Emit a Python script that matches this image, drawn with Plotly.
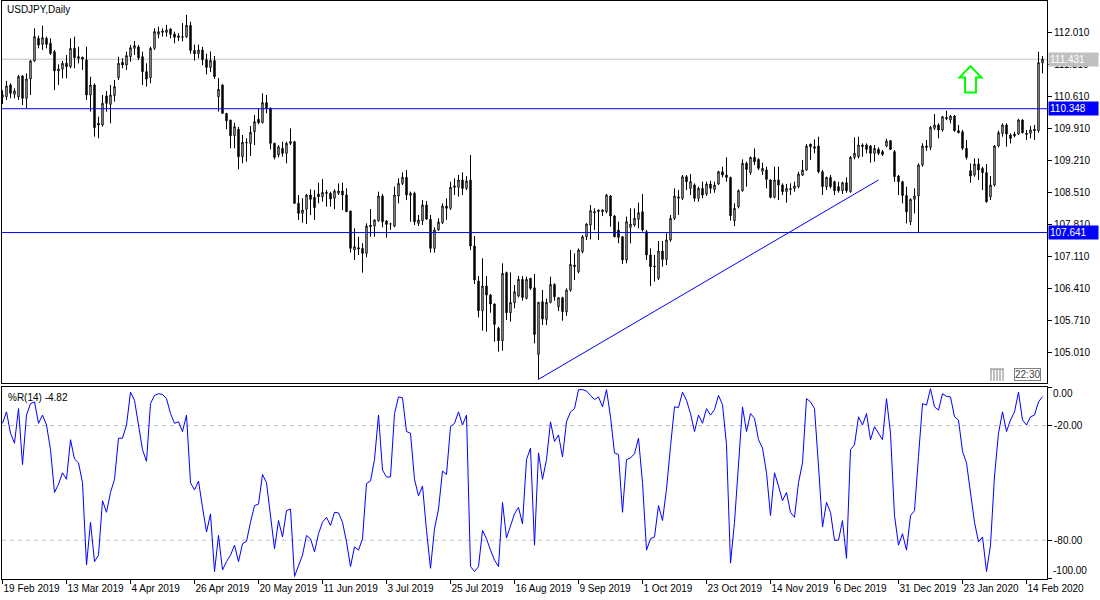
import plotly.graph_objects as go

# ---------------- data ----------------
date_labels = ["19 Feb 2019", "13 Mar 2019", "4 Apr 2019", "26 Apr 2019", "20 May 2019",
               "11 Jun 2019", "3 Jul 2019", "25 Jul 2019", "16 Aug 2019", "9 Sep 2019",
               "1 Oct 2019", "23 Oct 2019", "14 Nov 2019", "6 Dec 2019", "31 Dec 2019",
               "23 Jan 2020", "14 Feb 2020"]
label_bars = [0, 16, 32, 48, 64, 80, 96, 112, 128, 144, 160, 176, 192, 208, 224, 240, 256]

opens = [
 110.600,110.612,110.867,110.663,110.612,111.064,110.576,110.998,111.392,111.887,
 111.756,111.887,111.778,111.596,111.173,111.217,111.341,111.268,111.669,111.486,
 111.472,111.414,110.648,110.867,110.029,109.992,110.627,110.444,110.634,111.027,
 111.363,111.304,111.486,111.669,111.700,111.486,111.158,111.027,111.669,111.975,
 112.018,112.018,112.090,111.980,111.940,111.910,111.920,112.170,111.620,111.550,
 111.630,111.420,111.250,111.400,110.612,110.867,110.247,110.100,109.759,109.900,
 109.300,109.600,109.590,109.847,110.116,110.043,110.481,110.357,109.591,109.336,
 109.480,109.373,109.628,109.628,108.280,108.061,108.150,108.462,108.410,108.484,
 108.426,108.520,108.500,108.390,108.500,108.550,108.462,108.110,107.260,107.310,
 107.295,107.186,107.800,107.784,107.900,108.440,107.893,107.830,107.784,108.440,
 108.717,108.848,108.455,108.500,107.842,107.900,108.243,107.930,107.296,107.700,
 107.857,108.221,108.170,108.630,108.630,108.790,108.607,108.790,107.347,106.581,
 105.933,106.472,106.275,106.079,105.547,105.277,106.764,105.889,106.108,106.254,
 106.618,106.202,106.640,106.435,104.978,106.130,105.743,106.115,106.508,106.020,
 106.217,105.911,106.384,106.930,106.785,107.223,107.550,107.806,108.097,108.100,
 108.097,108.097,108.440,108.002,107.696,107.550,107.040,107.755,107.806,107.930,
 108.097,107.660,107.150,106.910,106.640,107.237,107.055,107.478,107.951,108.390,
 108.390,108.862,108.608,108.680,108.389,108.607,108.483,108.702,108.585,108.702,
 108.971,108.898,108.847,107.900,108.206,108.556,109.154,108.950,109.285,109.240,
 108.980,109.010,108.790,108.410,108.790,108.680,108.534,108.580,108.607,108.644,
 108.898,109.008,109.576,109.518,109.533,108.971,108.644,108.847,108.753,108.644,
 108.556,108.731,108.534,109.285,109.300,109.518,109.555,109.533,109.372,109.460,
 109.410,109.532,109.650,109.409,108.877,108.753,108.450,107.878,108.367,108.440,
 109.117,109.533,109.504,109.920,109.992,109.883,110.159,110.101,110.188,109.868,
 109.846,109.482,108.993,108.899,109.139,109.044,108.950,108.425,108.680,109.533,
 109.810,109.992,109.773,109.795,109.795,110.101,109.810,109.810,109.897,109.868,
 111.350]

highs = [
 110.750,110.955,110.903,110.794,111.086,111.086,111.122,111.414,112.106,111.946,
 112.164,111.924,111.887,111.632,111.319,111.392,111.523,111.887,111.924,111.705,
 111.486,111.705,111.049,110.903,110.175,110.648,110.736,110.867,110.976,111.486,
 111.450,111.596,111.741,111.829,111.741,111.596,111.341,111.705,112.106,112.142,
 112.106,112.179,112.106,112.033,112.000,112.220,112.400,112.250,111.750,111.750,
 111.700,111.550,111.600,111.500,111.020,110.880,110.250,110.100,110.043,109.950,
 109.774,109.700,109.970,110.211,110.357,110.685,110.648,110.378,109.606,109.555,
 109.628,109.628,109.920,109.640,108.462,108.390,108.484,108.586,108.570,108.732,
 108.812,108.570,108.535,108.586,108.717,108.732,108.608,108.120,107.733,107.550,
 107.405,107.842,108.155,107.930,108.535,108.483,107.915,107.857,108.644,108.826,
 108.957,109.008,108.535,108.535,108.024,108.352,108.330,108.024,107.755,107.950,
 108.279,108.389,108.753,108.826,108.899,108.957,108.877,109.336,107.565,106.691,
 107.077,106.691,106.297,106.093,105.583,106.968,106.785,106.771,106.494,106.691,
 106.691,106.676,106.650,106.734,106.120,106.385,106.200,106.676,106.530,106.217,
 106.239,106.421,107.259,107.186,107.296,107.587,107.842,108.243,108.170,108.148,
 108.148,108.483,108.461,108.024,107.878,107.565,107.988,108.170,108.170,108.294,
 108.483,107.696,107.296,107.150,107.456,107.456,107.623,108.024,108.607,108.570,
 108.899,108.899,108.920,108.717,108.644,108.753,108.753,108.775,108.753,108.993,
 109.081,109.285,108.862,108.279,108.585,109.241,109.190,109.300,109.480,109.263,
 109.168,109.081,108.804,109.081,109.081,108.717,108.702,108.717,108.753,108.971,
 109.226,109.576,109.580,109.678,109.737,109.008,108.862,108.899,108.775,108.753,
 108.753,108.847,109.314,109.722,109.737,109.590,109.590,109.555,109.554,109.503,
 109.445,109.693,109.664,109.445,108.899,108.774,108.644,108.389,108.607,109.153,
 109.591,109.664,109.970,110.232,110.028,110.188,110.305,110.210,110.210,109.992,
 109.883,109.664,109.153,109.263,109.263,109.081,109.139,108.877,109.555,109.868,
 110.028,110.028,109.810,109.846,110.130,110.115,109.883,109.970,109.992,111.595,
 111.500]

lows = [
 110.450,110.539,110.576,110.576,110.539,110.430,110.357,110.648,111.377,111.669,
 111.632,111.669,111.523,110.758,110.867,111.013,111.013,111.231,111.231,111.341,
 111.195,110.539,110.284,109.737,109.701,109.956,110.284,110.029,110.503,110.976,
 111.231,111.195,111.377,111.523,111.414,110.867,110.831,110.903,111.632,111.887,
 111.924,111.924,111.887,111.778,111.830,111.820,111.900,111.550,111.400,111.450,
 111.300,111.100,111.150,111.000,110.284,110.240,109.900,109.482,109.482,109.023,
 109.154,109.190,109.315,109.555,110.007,110.029,110.247,109.460,109.240,109.285,
 109.300,109.154,109.555,108.270,107.915,107.857,107.828,108.025,107.915,108.280,
 108.316,108.207,108.207,108.150,108.462,108.134,108.090,107.201,107.040,107.150,
 106.764,107.099,107.550,107.550,107.880,107.755,107.529,107.700,107.755,108.279,
 108.680,108.352,107.878,107.806,107.784,107.806,107.915,107.201,107.201,107.680,
 107.828,107.915,108.134,108.462,108.425,108.462,108.571,107.260,106.516,105.787,
 105.496,105.474,105.889,105.255,105.036,105.058,105.729,105.693,105.984,106.224,
 106.151,106.180,106.384,105.219,104.432,105.619,105.619,106.093,106.151,105.925,
 105.714,105.823,106.348,106.603,106.749,107.186,107.478,107.492,107.696,107.478,
 108.002,108.060,107.770,107.536,107.405,106.953,106.968,107.405,107.769,107.733,
 107.660,107.040,106.472,106.567,106.603,106.895,106.931,107.441,107.915,108.024,
 108.352,108.570,108.460,108.316,108.316,108.389,108.440,108.498,108.512,108.680,
 108.847,108.753,107.900,107.784,108.170,108.534,108.644,108.900,109.117,109.008,
 108.900,108.607,108.389,108.389,108.352,108.461,108.294,108.461,108.534,108.607,
 108.877,108.993,109.226,109.372,108.935,108.461,108.571,108.607,108.461,108.512,
 108.483,108.512,108.512,109.241,109.263,109.300,109.372,109.168,109.190,109.336,
 109.314,109.503,109.445,108.753,108.461,108.279,107.842,107.805,108.060,107.638,
 109.080,109.430,109.445,109.883,109.700,109.846,110.100,110.028,109.846,109.810,
 109.445,109.241,108.731,108.862,108.789,108.570,108.294,108.352,108.644,109.503,
 109.737,109.518,109.590,109.722,109.773,109.810,109.664,109.700,109.664,109.824,
 111.122]

closes = [
 110.650,110.845,110.685,110.736,111.049,110.576,110.998,111.392,111.924,111.741,
 111.902,111.756,111.559,111.173,111.217,111.341,111.268,111.669,111.465,111.450,
 111.435,110.648,110.867,109.934,109.992,110.466,110.466,110.648,110.831,111.341,
 111.304,111.508,111.683,111.727,111.465,111.158,110.998,111.669,112.033,112.033,
 112.048,112.070,111.975,111.910,111.910,111.920,112.170,111.620,111.550,111.630,
 111.420,111.250,111.400,111.050,110.772,110.247,110.087,109.759,109.956,109.300,
 109.613,109.610,109.832,110.065,110.043,110.481,110.357,109.591,109.285,109.518,
 109.373,109.591,109.591,108.280,108.061,108.134,108.462,108.367,108.185,108.426,
 108.520,108.500,108.375,108.550,108.550,108.462,108.097,107.296,107.332,107.280,
 107.186,107.784,107.770,107.915,108.440,107.878,107.820,107.830,108.462,108.717,
 108.848,108.462,108.500,107.878,107.915,108.243,107.937,107.296,107.697,107.870,
 108.221,108.170,108.629,108.660,108.790,108.607,108.768,107.347,106.603,105.933,
 106.472,106.275,106.079,105.634,105.277,106.749,105.889,106.115,106.348,106.618,
 106.224,106.618,106.421,105.415,106.115,105.750,106.115,106.508,106.239,106.217,
 105.911,106.384,106.946,106.895,107.259,107.551,107.828,108.119,108.075,108.130,
 108.134,108.461,108.002,107.550,107.536,107.040,107.878,107.827,107.951,108.075,
 107.696,107.150,106.895,106.895,107.237,107.055,107.478,107.951,108.440,108.420,
 108.862,108.753,108.753,108.389,108.607,108.461,108.702,108.607,108.680,108.971,
 108.898,108.847,108.009,108.170,108.556,109.154,109.022,109.285,109.190,109.044,
 109.044,108.804,108.410,108.790,108.680,108.534,108.607,108.600,108.658,108.920,
 109.008,109.533,109.518,109.482,108.971,108.644,108.847,108.644,108.556,108.556,
 108.731,108.556,109.285,109.372,109.555,109.555,109.460,109.372,109.480,109.372,
 109.350,109.642,109.460,108.862,108.753,108.450,108.097,108.367,108.440,109.117,
 109.533,109.504,109.941,109.992,109.883,110.174,110.130,110.188,109.868,109.825,
 109.482,109.285,108.877,109.139,109.008,108.950,108.316,108.680,109.533,109.825,
 109.992,109.795,109.700,109.759,110.101,109.825,109.790,109.883,109.868,111.355,
 111.431]

# Williams %R(14) as drawn in the lower window
wpr = [
 -18.8,-12.8,-24.0,-29.2,-11.1,-40.4,-14.5,-8.5,-7.6,-18.8,
 -14.5,-19.7,-32.6,-55.0,-50.7,-44.7,-48.1,-27.4,-37.5,-39.5,
 -49.9,-93.0,-70.6,-91.2,-87.8,-59.3,-65.4,-55.0,-48.1,-26.6,
 -26.6,-19.7,-2.5,-6.8,-19.7,-32.6,-38.7,-8.5,-4.2,-3.3,
 -3.7,-5.9,-13.7,-18.8,-18.0,-23.1,-14.5,-49.9,-53.7,-49.0,
 -62.8,-75.7,-66.2,-96.4,-77.5,-95.6,-91.2,-87.8,-82.6,-91.2,
 -81.8,-80.6,-70.6,-61.9,-61.1,-45.6,-49.9,-68.8,-84.4,-69.7,
 -78.3,-64.5,-63.7,-99.0,-93.8,-87.8,-77.5,-79.2,-86.1,-76.6,
 -70.6,-68.0,-72.3,-65.4,-65.7,-70.6,-80.9,-93.8,-83.5,-85.2,
 -79.2,-50.3,-49.0,-37.8,-14.5,-43.3,-46.9,-46.9,-13.7,-5.0,
 -5.4,-23.1,-24.0,-48.1,-56.8,-51.6,-74.9,-94.7,-74.0,-63.7,
 -43.8,-45.6,-20.6,-18.8,-12.8,-19.7,-14.5,-93.8,-96.4,-93.8,
 -74.9,-79.2,-85.2,-90.4,-93.8,-60.2,-78.8,-72.3,-66.2,-62.8,
 -71.4,-37.8,-31.8,-82.6,-34.3,-48.1,-37.8,-18.0,-28.3,-24.9,
 -36.4,-18.0,-12.8,-11.1,-1.2,-1.2,-1.9,-4.2,-6.4,-5.0,
 -10.2,-1.2,-15.4,-34.3,-35.2,-65.4,-37.8,-36.9,-34.7,-26.6,
 -49.9,-85.2,-79.2,-78.3,-61.9,-69.7,-53.3,-30.9,-10.2,-10.5,
 -2.5,-6.8,-13.7,-23.1,-14.5,-18.8,-11.1,-14.5,-11.6,-4.2,
 -9.0,-30.0,-92.0,-70.6,-37.8,-10.2,-23.1,-13.7,-16.2,-27.4,
 -31.8,-44.7,-67.1,-44.7,-51.6,-59.3,-55.0,-65.4,-68.0,-49.9,
 -39.5,-5.9,-7.6,-11.1,-41.2,-73.1,-60.2,-65.4,-80.0,-80.0,
 -69.7,-89.5,-32.6,-30.0,-15.4,-19.7,-13.7,-27.4,-20.6,-24.0,
 -27.4,-5.9,-24.0,-67.1,-82.6,-76.6,-85.2,-67.1,-64.5,-36.1,
 -8.5,-9.3,-0.7,-10.2,-11.9,-3.3,-4.7,-5.0,-15.4,-17.1,
 -33.5,-39.5,-55.0,-70.6,-80.9,-78.3,-96.4,-82.6,-46.4,-24.0,
 -12.8,-23.1,-17.1,-12.8,-2.5,-17.1,-19.7,-15.4,-14.5,-7.6,
 -4.82]

price_ticks = [105.010, 105.710, 106.410, 107.110, 107.810, 108.510,
               109.210, 109.910, 110.610, 111.310, 112.010]
wpr_ticks = [0, -20, -80, -100]
wpr_levels = [-20, -80]
hlines = [110.348, 107.641]
trend_bars = [134, 219]
trend_prices = [104.432, 108.79]
arrow_bars = [242]
arrow_prices = [111.28]
symbol_title = "USDJPY,Daily"
indicator_title = "%R(14) -4.82"
clock_text = "22:30"

# ---------------- styling / layout ----------------
BLUE = "#0000ff"
GRAY = "#c0c0c0"
FONT = "Liberation Sans, Arial, DejaVu Sans"
W, H = 1100, 600
ML, MR, MT, MB = 2, 53, 1, 21
plot_w = W - ML - MR
plot_h = H - MT - MB
main_dom = [0.3391, 1.0]
ind_dom = [0.0, 0.3322]
n = len(closes)
xr = [-0.125, -0.125 + plot_w / 4.0]
yr_main = [104.352, 112.703]
yr_ind = [-100.3, 0.2]

idx = list(range(n))
fig = go.Figure()
fig.add_trace(go.Candlestick(
    x=idx, open=opens, high=highs, low=lows, close=closes,
    increasing=dict(line=dict(color="black", width=1), fillcolor="white"),
    decreasing=dict(line=dict(color="black", width=1), fillcolor="black"),
    whiskerwidth=0, xaxis="x", yaxis="y", hoverinfo="skip", showlegend=False))
fig.add_trace(go.Scatter(x=trend_bars, y=trend_prices, mode="lines",
                         line=dict(color=BLUE, width=1), xaxis="x", yaxis="y",
                         hoverinfo="skip", showlegend=False))
fig.add_trace(go.Scatter(x=idx, y=wpr, mode="lines", line=dict(color=BLUE, width=1),
                         xaxis="x2", yaxis="y2", hoverinfo="skip", showlegend=False))

# horizontal price levels
for lvl in hlines:
    fig.add_shape(type="line", xref="x domain", x0=0, x1=1, yref="y", y0=lvl, y1=lvl,
                  line=dict(color=BLUE, width=1))
fig.add_shape(type="line", xref="x domain", x0=0, x1=1, yref="y", y0=closes[-1], y1=closes[-1],
              line=dict(color=GRAY, width=1), layer="below")
for lvl in wpr_levels:
    fig.add_shape(type="line", xref="x2 domain", x0=0, x1=1, yref="y2", y0=lvl, y1=lvl,
                  line=dict(color=GRAY, width=1, dash="4px,4px"), layer="below")

# green up arrow object
xpp = (xr[1] - xr[0]) / plot_w
ypp = (yr_main[1] - yr_main[0]) / (plot_h * (main_dom[1] - main_dom[0]))
arrow_shape = [(0, 0), (11, 11.5), (5.5, 11.5), (5.5, 26.5), (-5.5, 26.5), (-5.5, 11.5), (-11, 11.5)]
for ab, ap in zip(arrow_bars, arrow_prices):
    pts = [(ab + dx * xpp, ap - dy * ypp) for dx, dy in arrow_shape]
    path = "M " + " L ".join(f"{px:.4f},{py:.4f}" for px, py in pts) + " Z"
    fig.add_shape(type="path", xref="x", yref="y", path=path,
                  line=dict(color="#00ff00", width=2), fillcolor="white")

# small ruler icon next to the clock box (bottom-right of price window)
main_h_px = plot_h * (main_dom[1] - main_dom[0])
for k in range(5):
    xf = 1 - (56 - 3 * k) / plot_w
    fig.add_shape(type="line", xref="x domain", yref="y domain", x0=xf, x1=xf,
                  y0=2 / main_h_px, y1=14 / main_h_px, line=dict(color="#808080", width=1))
fig.add_shape(type="line", xref="x domain", yref="y domain",
              x0=1 - 57 / plot_w, x1=1 - 43 / plot_w, y0=14 / main_h_px, y1=14 / main_h_px,
              line=dict(color="#808080", width=1))

# price labels on right scale
def price_label(val, bg):
    fig.add_annotation(xref="paper", x=1, xanchor="left", xshift=1, yref="y", y=val,
                       text=f"{val:.3f}", showarrow=False, bgcolor=bg, borderpad=1,
                       width=47, align="left", font=dict(family=FONT, size=10, color="white"))

price_label(closes[-1], GRAY)
for lvl in hlines:
    price_label(lvl, BLUE)

fig.add_annotation(xref="paper", x=0, xanchor="left", xshift=3, yref="paper", y=1,
                   yanchor="top", yshift=-1, text=symbol_title, showarrow=False,
                   font=dict(family=FONT, size=10, color="black"))
fig.add_annotation(xref="paper", x=0, xanchor="left", xshift=4, yref="y2 domain", y=1,
                   yanchor="top", yshift=-3, text=indicator_title, showarrow=False,
                   font=dict(family=FONT, size=10, color="black"))
fig.add_annotation(xref="paper", x=1, xanchor="left", xshift=4, yref="y2", y=0,
                   yanchor="top", yshift=1, text="0.00", showarrow=False,
                   font=dict(family=FONT, size=10, color="black"))
fig.add_annotation(xref="paper", x=1, xanchor="left", xshift=4, yref="y2", y=-100,
                   yanchor="bottom", yshift=0, text="-100.00", showarrow=False,
                   font=dict(family=FONT, size=10, color="black"))
fig.add_annotation(xref="paper", x=1, xanchor="right", xshift=-6, yref="y domain", y=0,
                   yanchor="bottom", yshift=2, text=clock_text, showarrow=False,
                   bordercolor="#808080", borderwidth=1, borderpad=0, bgcolor="white",
                   font=dict(family=FONT, size=10, color="#404040"))

axis_common = dict(showgrid=False, zeroline=False, showline=True, linecolor="black",
                   linewidth=1, mirror=True, automargin=False)
fig.update_layout(
    width=W, height=H, margin=dict(l=ML, r=MR, t=MT, b=MB, autoexpand=False),
    paper_bgcolor="white", plot_bgcolor="white", showlegend=False, boxgap=0.5,
    font=dict(family=FONT, size=10, color="black"),
    xaxis=dict(domain=[0, 1], range=xr, anchor="y", showticklabels=False, ticks="",
               rangeslider=dict(visible=False), **axis_common),
    yaxis=dict(domain=main_dom, range=yr_main, side="right", anchor="x",
               tickmode="array", tickvals=price_ticks,
               ticktext=[f"{v:.3f}" for v in price_ticks],
               ticks="outside", ticklen=4, tickcolor="black", **axis_common),
    xaxis2=dict(domain=[0, 1], range=xr, anchor="y2", tickmode="array", tickvals=label_bars,
                ticktext=date_labels, ticks="outside", ticklen=4, tickcolor="black",
                tickangle=0, ticklabelposition="outside right", **axis_common),
    yaxis2=dict(domain=ind_dom, range=yr_ind, side="right", anchor="x2",
                tickmode="array", tickvals=wpr_ticks, ticktext=["", "-20.00", "-80.00", ""],
                ticks="outside", ticklen=4, tickcolor="black", **axis_common),
)

fig.write_html("out.html", config={"displayModeBar": False},
               post_script="document.body.style.margin='0';document.body.style.padding='0';")
